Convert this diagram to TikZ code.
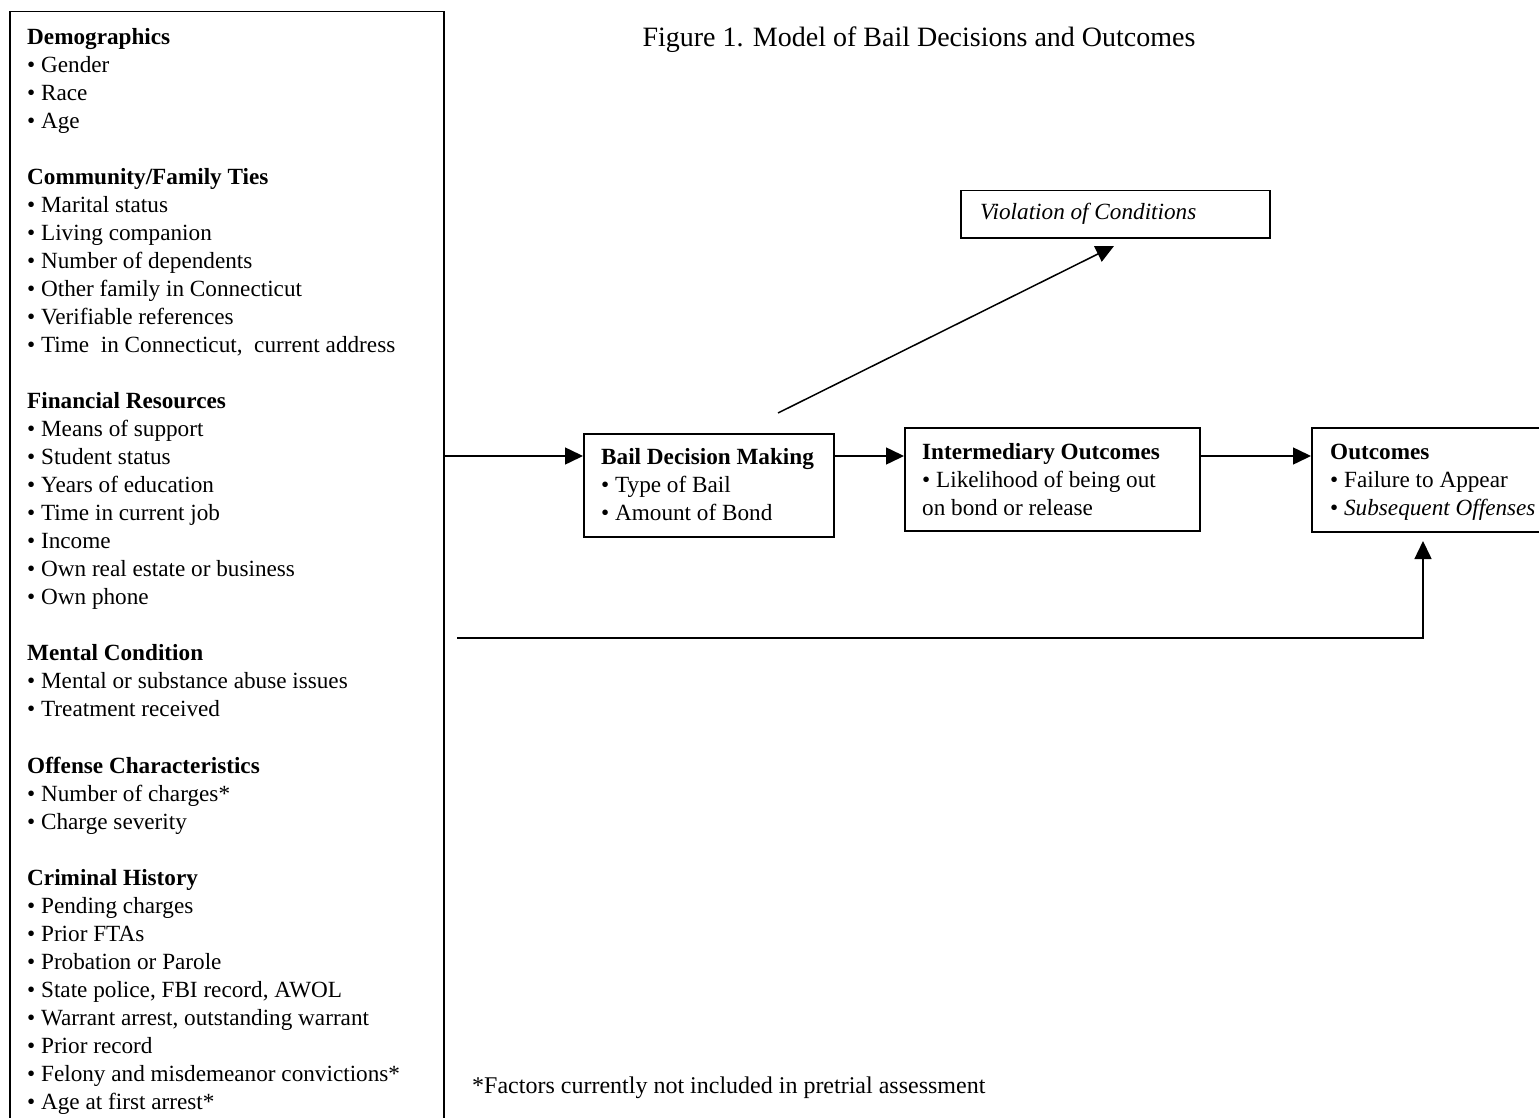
\documentclass[tikz,border=0pt]{standalone}
\usepackage{fontspec}
\setmainfont{Liberation Serif}
\usetikzlibrary{arrows.meta}
\begin{document}
\begin{tikzpicture}[x=1pt,y=-1pt,
  box/.style={draw, line width=1.5pt, inner sep=0pt, anchor=north west},
  txt/.style={inner sep=0pt, align=left, font=\fontsize{23.2}{28.04}\selectfont, anchor=north west},
  line/.style={txt, anchor=base west},
  arr/.style={line width=1.5pt, -{Triangle[length=18pt,width=17pt]}}]
\useasboundingbox (0,0) rectangle (1539,1118);
\clip (0,0) rectangle (1539,1118);
% left factor box
\node[box, minimum width=434pt, minimum height=1150pt] (factors) at (9,11) {};
\node[txt] (factorstext) at (27,27.7) {%
\textbf{Demographics}\\
• Gender\\
• Race\\
• Age\\[28.04pt]
\textbf{Community/Family Ties}\\
• Marital status\\
• Living companion\\
• Number of dependents\\
• Other family in Connecticut\\
• Verifiable references\\
• Time\ \ in Connecticut,\ \ current address\\[28.04pt]
\textbf{Financial Resources}\\
• Means of support\\
• Student status\\
• Years of education\\
• Time in current job\\
• Income\\
• Own real estate or business\\
• Own phone\\[28.04pt]
\textbf{Mental Condition}\\
• Mental or substance abuse issues\\
• Treatment received\\[28.04pt]
\textbf{Offense Characteristics}\\
• Number of charges*\\
• Charge severity\\[28.04pt]
\textbf{Criminal History}\\
• Pending charges\\
• Prior FTAs\\
• Probation or Parole\\
• State police, FBI record, AWOL\\
• Warrant arrest, outstanding warrant\\
• Prior record\\
• Felony and misdemeanor convictions*\\
• Age at first arrest*};
% title
\node[line, anchor=base, font=\fontsize{28}{33}\selectfont] (title) at (919,46.5) {Figure 1. Model of Bail Decisions and Outcomes};
% violation box
\node[box, minimum width=309pt, minimum height=47pt] (viol) at (960,190) {};
\node[line] (violtext) at (980,220) {\textit{Violation of Conditions}};
% bail decision box
\node[box, minimum width=250pt, minimum height=103pt] (bail) at (583,433) {};
\node[txt] (bailtext) at (601,448.2) {\textbf{Bail Decision Making}\\• Type of Bail\\• Amount of Bond};
% intermediary box
\node[box, minimum width=295pt, minimum height=103pt] (inter) at (904,427) {};
\node[txt] (intertext) at (922,443.2) {\textbf{Intermediary Outcomes}\\• Likelihood of being out\\on bond or release};
% outcomes box
\node[box, minimum width=260pt, minimum height=104pt] (out) at (1311,427) {};
\node[txt] (outtext) at (1330,444.2) {\textbf{Outcomes}\\• Failure to Appear\\• \textit{Subsequent Offenses}};
% footnote
\node[line, font=\fontsize{24}{28}\selectfont] (foot) at (472,1093) {*Factors currently not included in pretrial assessment};
% connectors
\coordinate (a0) at (443,456);
\draw[arr] (a0) -- (a0 -| bail.west);
\coordinate (a1) at (833,456);
\draw[arr] (a1) -- (a1 -| inter.west);
\coordinate (a2) at (1199,456);
\draw[arr] (a2) -- (a2 -| out.west);
\coordinate (v0) at (778,413);
\coordinate (v1) at (1114,246);
\draw[arr] (v0) -- (v1);
\coordinate (b0) at (457,638);
\coordinate (b1) at (1423,541);
\draw[arr] (b0) -| (b1);
\end{tikzpicture}
\end{document}
